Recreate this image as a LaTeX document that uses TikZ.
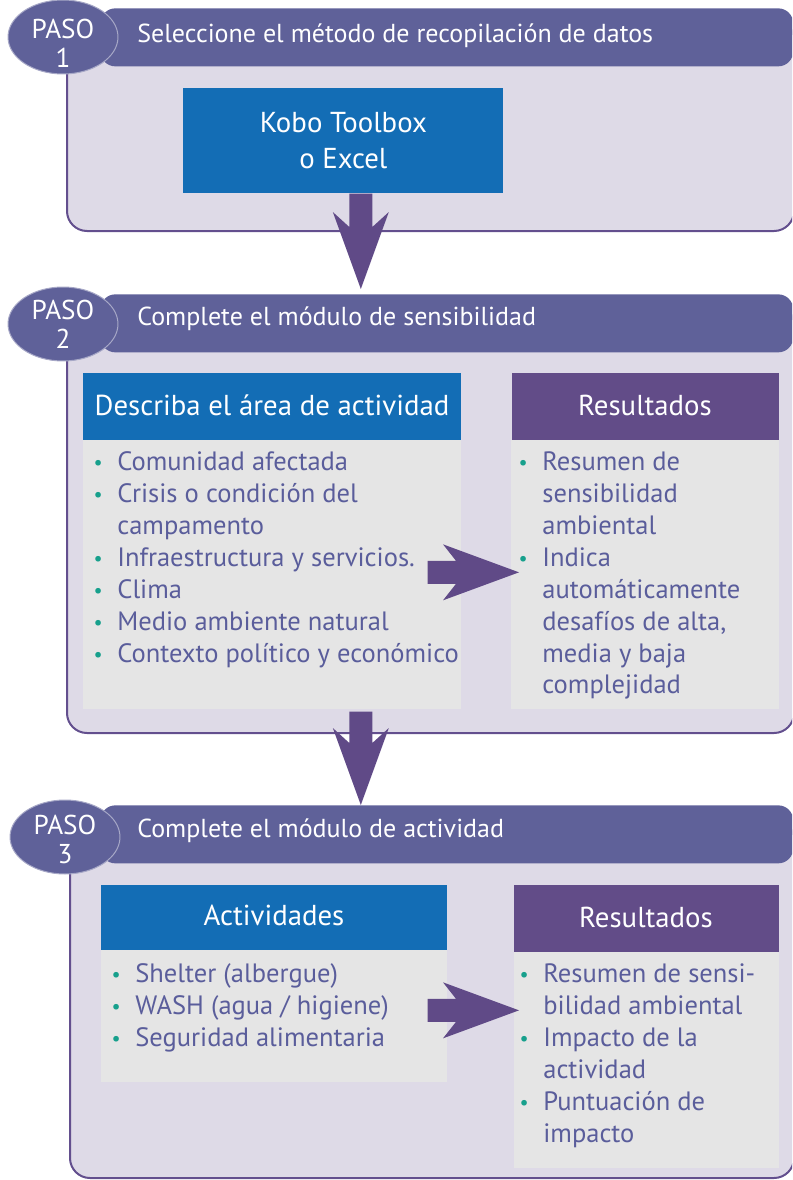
\documentclass[tikz,border=0pt]{standalone}
\usepackage{fontspec}
\setmainfont{PT Sans}
\usetikzlibrary{shapes.geometric,calc}

\definecolor{bandblue}{HTML}{5F6199}
\definecolor{panelfill}{HTML}{DEDAE7}
\definecolor{panelline}{HTML}{634F8E}
\definecolor{headblue}{HTML}{136DB5}
\definecolor{headpurple}{HTML}{624C88}
\definecolor{bodygray}{HTML}{E5E5E5}
\definecolor{arrowpurple}{HTML}{604A87}
\definecolor{txtcol}{HTML}{5A5D9B}
\definecolor{bulletteal}{HTML}{17A08C}

\newcommand{\fs}{\fontsize{15.1pt}{18.2pt}\selectfont}
\newcommand{\bul}{\llap{\textcolor{bulletteal}{\raisebox{0.3pt}{\fontsize{11.5pt}{11.5pt}\selectfont\textbullet}}\hspace{2.9mm}}}

% block arrows: #1 = start of the shaft, #2 = tip
\newcommand{\downblock}[2]{%
  \fill[arrowpurple] ($(#1)+(-11.5,0)$) -- ($(#2)+(-11.5,-62)$) -- ($(#2)+(-28,-77)$) -- (#2)
    -- ($(#2)+(28,-77)$) -- ($(#2)+(11.5,-62)$) -- ($(#1)+(11.5,0)$) -- cycle;}
\newcommand{\rightblock}[2]{%
  \fill[arrowpurple] ($(#1)+(0,-11.5)$) -- ($(#2)+(-63,-11.5)$) -- ($(#2)+(-76,-28)$) -- (#2)
    -- ($(#2)+(-76,28)$) -- ($(#2)+(-63,11.5)$) -- ($(#1)+(0,11.5)$) -- cycle;}

\begin{document}
\begin{tikzpicture}[x=0.02cm, y=-0.02cm,
    panel/.style={draw=panelline, line width=0.4mm, fill=panelfill, rounded corners=4mm},
    band/.style={fill=bandblue, rounded corners=3mm, inner sep=0pt, anchor=north west,
      minimum width=13.86cm, minimum height=1.16cm},
    stepoval/.style={ellipse, fill=bandblue, draw=bandblue!55!white, line width=0.2mm,
      inner sep=0pt, minimum width=2.2cm, minimum height=1.48cm},
    steptext/.style={text=white, align=center, inner sep=0pt,
      font=\fontsize{15.5pt}{16.5pt}\selectfont},
    bandtext/.style={anchor=base west, inner sep=0pt, text=white,
      font=\fontsize{14.8pt}{17pt}\selectfont},
    box/.style={anchor=north west, inner sep=0pt},
    headtext/.style={anchor=base, inner sep=0pt, text=white,
      font=\fontsize{16.4pt}{19pt}\selectfont},
    itemlist/.style={anchor=north west, inner sep=0pt, align=left, text=txtcol, font=\fs}
  ]
  \useasboundingbox (0,0) rectangle (792,1180);
  \clip (0,0) rectangle (792,1180);

  % PASO 1
  \draw[panel] (67,20) rectangle (794,231);
  \node[band] (hdr1) at (100,8) {};
  \node[stepoval] (oval1) at (63,37) {};
  \node[steptext] (paso1) at (63,43) {PASO\\1};
  \node[bandtext] (title1) at (137,42) {Seleccione el método de recopilación de datos};
  \node[box, fill=headblue, minimum width=6.4cm, minimum height=2.1cm, text=white,
    align=center, font=\fontsize{16.4pt}{20.5pt}\selectfont] (kobo) at (183,88) {Kobo Toolbox\\o Excel};

  % PASO 2
  \draw[panel] (67,305) rectangle (794,733);
  \node[band] (hdr2) at (100,294) {};
  \node[stepoval] (oval2) at (63,324) {};
  \node[steptext] (paso2) at (63,324) {PASO\\2};
  \node[bandtext] (title2) at (137,325) {Complete el módulo de sensibilidad};

  \node[box, fill=headblue, minimum width=7.56cm, minimum height=1.34cm] (deschead) at (83,373) {};
  \node[box, fill=bodygray, minimum width=7.56cm, minimum height=5.38cm] (descbody) at (83,440) {};
  \node[headtext] (desctitle) at (272,415) {Describa el área de actividad};
  \node[itemlist] (desclist) at (117,451) {\bul Comunidad afectada\\
    \bul Crisis o condición del\\ campamento\\
    \bul Infraestructura y servicios.\\
    \bul Clima\\
    \bul Medio ambiente natural\\
    \bul Contexto político y económico};

  \node[box, fill=headpurple, minimum width=5.34cm, minimum height=1.34cm] (reshead2) at (512,373) {};
  \node[box, fill=bodygray, minimum width=5.36cm, minimum height=5.38cm] (resbody2) at (511,440) {};
  \node[headtext] (restitle2) at (645,415) {Resultados};
  \node[itemlist] (reslist2) at (542,451) {\bul Resumen de\\ sensibilidad\\ ambiental\\
    \bul Indica\\ automáticamente\\ desafíos de alta,\\ media y baja\\ complejidad};

  % PASO 3
  \draw[panel] (70,820) rectangle (794,1178);
  \node[band] (hdr3) at (100,805) {};
  \node[stepoval] (oval3) at (65,837) {};
  \node[steptext] (paso3) at (65,839) {PASO\\3};
  \node[bandtext] (title3) at (137,837) {Complete el módulo de actividad};

  \node[box, fill=headblue, minimum width=6.92cm, minimum height=1.3cm] (acthead) at (101,885) {};
  \node[box, fill=bodygray, minimum width=6.92cm, minimum height=2.64cm] (actbody) at (101,950) {};
  \node[headtext] (acttitle) at (274,925) {Actividades};
  \node[itemlist] (actlist) at (135,963) {\bul Shelter (albergue)\\
    \bul WASH (agua / higiene)\\
    \bul Seguridad alimentaria};

  \node[box, fill=headpurple, minimum width=5.3cm, minimum height=1.34cm] (reshead3) at (514,885) {};
  \node[box, fill=bodygray, minimum width=5.3cm, minimum height=4.32cm] (resbody3) at (514,952) {};
  \node[headtext] (restitle3) at (646,927) {Resultados};
  \node[itemlist] (reslist3) at (543,963) {\bul Resumen de sensi-\\ bilidad ambiental\\
    \bul Impacto de la\\ actividad\\
    \bul Puntuación de\\ impacto};

  % block arrows
  \coordinate (a1s) at ($(kobo.south)+(17.5,0)$);
  \coordinate (a1t) at ($(a1s |- hdr2.north)+(0,-5)$);
  \downblock{a1s}{a1t}
  \coordinate (a2s) at ($(a1s |- descbody.south)+(0,2)$);
  \coordinate (a2t) at (a1s |- hdr3.north);
  \downblock{a2s}{a2t}
  \coordinate (r2s) at ($(descbody.east)+(-34,-2.5)$);
  \coordinate (r2t) at ($(resbody2.west)+(8,-2.5)$);
  \rightblock{r2s}{r2t}
  \coordinate (r3s) at ($(actbody.east)+(-20,-6)$);
  \coordinate (r3t) at ($(resbody3.west)+(5,-50)$);
  \rightblock{r3s}{r3t}
\end{tikzpicture}
\end{document}
